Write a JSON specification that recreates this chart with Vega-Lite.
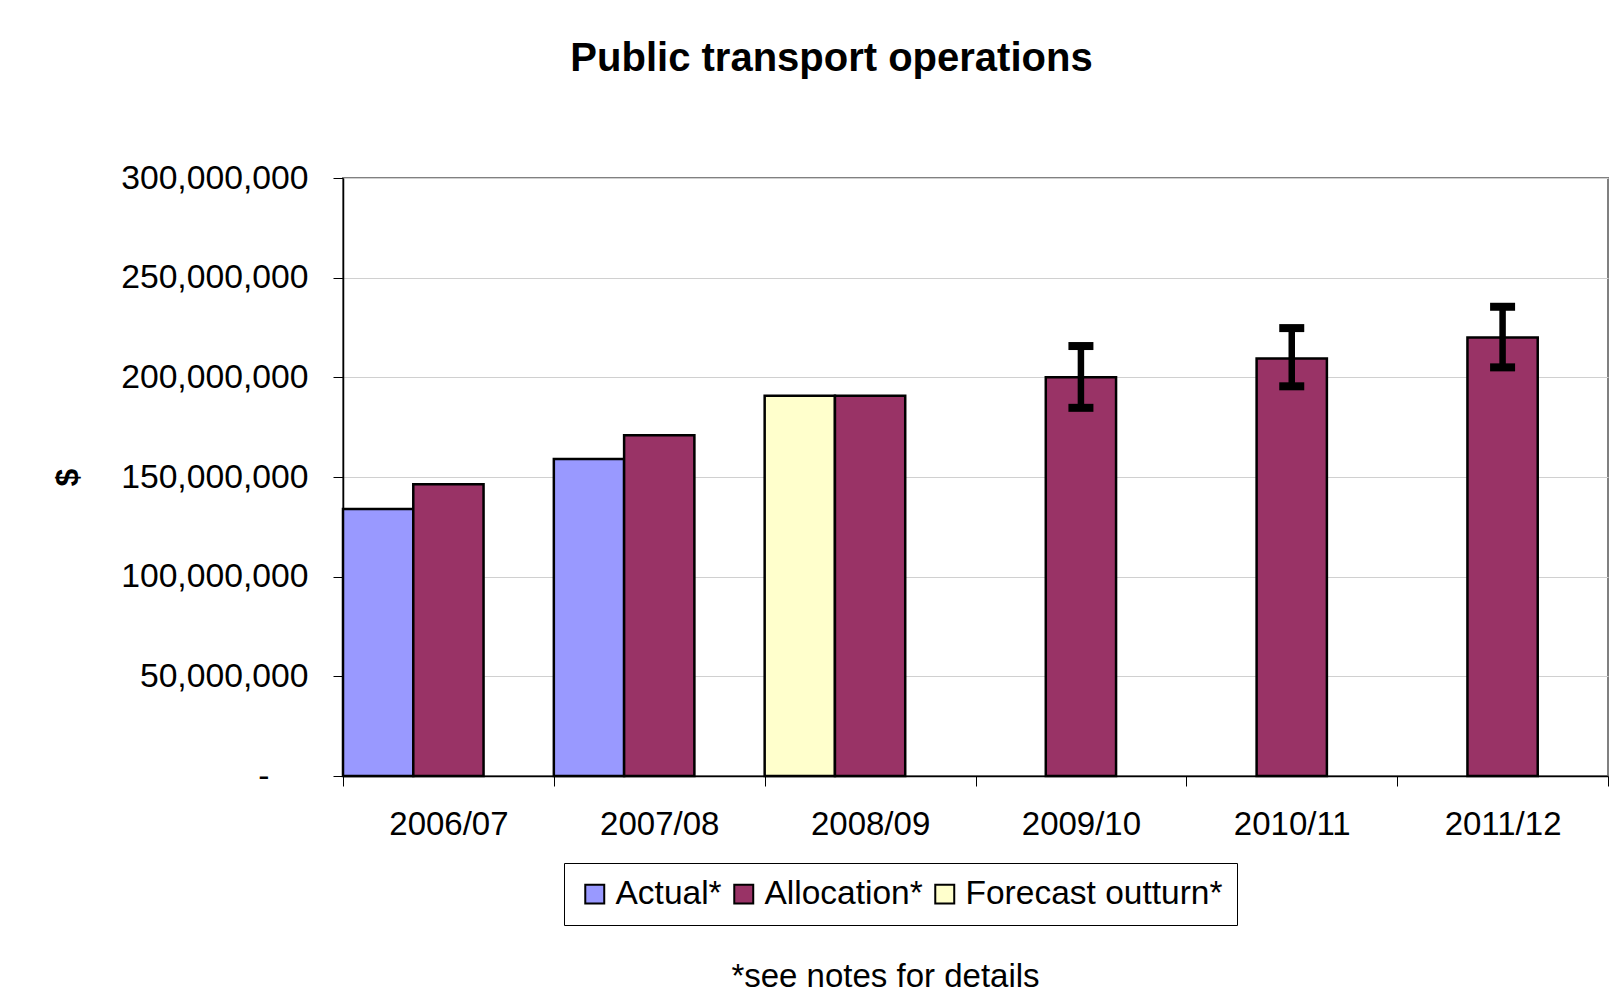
{
  "$schema": "https://vega.github.io/schema/vega-lite/v6.json",
  "width": 1265,
  "height": 598,
  "autosize": {"type": "none"},
  "padding": {"left": 343, "top": 178, "right": 11, "bottom": 225},
  "background": "white",
  "config": {
    "font": "Liberation Sans",
    "view": {"stroke": "#808080", "strokeWidth": 2},
    "axis": {"labelFont": "Liberation Sans", "titleFont": "Liberation Sans", "labelColor": "black", "titleColor": "black"}
  },
  "title": {
    "text": "Public transport operations",
    "fontSize": 40,
    "fontWeight": "bold",
    "font": "Liberation Sans",
    "color": "black",
    "anchor": "middle",
    "dx": -144,
    "offset": 82
  },
  "data": {
    "values": [
      {"year": "2006/07", "series": "Actual*", "slot": "a", "value": 134000000},
      {"year": "2006/07", "series": "Allocation*", "slot": "b", "value": 146400000},
      {"year": "2007/08", "series": "Actual*", "slot": "a", "value": 159000000},
      {"year": "2007/08", "series": "Allocation*", "slot": "b", "value": 171000000},
      {"year": "2008/09", "series": "Forecast outturn*", "slot": "a", "value": 190800000},
      {"year": "2008/09", "series": "Allocation*", "slot": "b", "value": 190800000},
      {"year": "2009/10", "series": "Allocation*", "slot": "b", "value": 200000000, "low": 184700000, "high": 215700000},
      {"year": "2010/11", "series": "Allocation*", "slot": "b", "value": 209500000, "low": 195500000, "high": 224700000},
      {"year": "2011/12", "series": "Allocation*", "slot": "b", "value": 220000000, "low": 205000000, "high": 235400000}
    ]
  },
  "layer": [
    {
      "mark": {"type": "bar", "stroke": "black", "strokeWidth": 2.5},
      "encoding": {
        "x": {
          "field": "year", "type": "nominal",
          "scale": {"paddingInner": 0, "paddingOuter": 0},
          "axis": {
            "tickBand": "extent",
            "labelAngle": 0,
            "labelFontSize": 33,
            "labelPadding": 22,
            "tickSize": 10,
            "tickColor": "black",
            "domainColor": "black",
            "domainWidth": 1.5,
            "grid": false,
            "title": "*see notes for details",
            "titleFontSize": 33,
            "titleFontWeight": "normal",
            "titleX": 542,
            "titleY": 200,
            "titleAlign": "center",
            "titleBaseline": "middle"
          }
        },
        "xOffset": {"field": "slot", "type": "nominal", "scale": {"domain": ["a", "b", "c"], "paddingInner": 0, "paddingOuter": 0}},
        "y": {
          "field": "value", "type": "quantitative",
          "scale": {"domain": [0, 300000000]},
          "axis": {
            "title": "$",
            "titleFontSize": 32,
            "titleFontWeight": "bold",
            "titleX": -276,
            "titleY": 299,
            "titleAlign": "center",
            "titleBaseline": "middle",
            "values": [0, 50000000, 100000000, 150000000, 200000000, 250000000, 300000000],
            "labelExpr": "datum.value == 0 ? '-' : format(datum.value, ',d')",
            "labelFontSize": 33.7,
            "labelLimit": 400,
            "labelPadding": {"condition": {"test": "datum.value == 0", "value": 64}, "value": 25},
            "tickSize": 10,
            "tickColor": "black",
            "domainColor": "black",
            "domainWidth": 1.5,
            "grid": true,
            "gridColor": "#D0D0D0"
          }
        },
        "fill": {
          "field": "series", "type": "nominal",
          "scale": {"domain": ["Actual*", "Allocation*", "Forecast outturn*"], "range": ["#9999FF", "#993366", "#FFFFCC"]},
          "legend": {
            "title": null,
            "orient": "none",
            "legendX": 221,
            "legendY": 685,
            "direction": "horizontal",
            "strokeColor": "black",
            "padding": 14,
            "symbolType": "square",
            "symbolSize": 360,
            "symbolStrokeColor": "black",
            "symbolStrokeWidth": 2,
            "labelFontSize": 33.5,
            "labelOffset": 4,
            "columnPadding": 5,
            "labelLimit": 400
          }
        }
      }
    },
    {
      "transform": [{"filter": "isValid(datum.low)"}],
      "mark": {"type": "rule", "stroke": "black", "strokeWidth": 6.5},
      "encoding": {
        "x": {"field": "year", "type": "nominal"},
        "y": {"field": "low", "type": "quantitative"},
        "y2": {"field": "high"}
      }
    },
    {
      "transform": [{"filter": "isValid(datum.low)"}],
      "mark": {"type": "tick", "color": "black", "size": 25, "thickness": 8, "opacity": 1},
      "encoding": {
        "x": {"field": "year", "type": "nominal"},
        "y": {"field": "low", "type": "quantitative"}
      }
    },
    {
      "transform": [{"filter": "isValid(datum.low)"}],
      "mark": {"type": "tick", "color": "black", "size": 25, "thickness": 8, "opacity": 1},
      "encoding": {
        "x": {"field": "year", "type": "nominal"},
        "y": {"field": "high", "type": "quantitative"}
      }
    }
  ]
}
